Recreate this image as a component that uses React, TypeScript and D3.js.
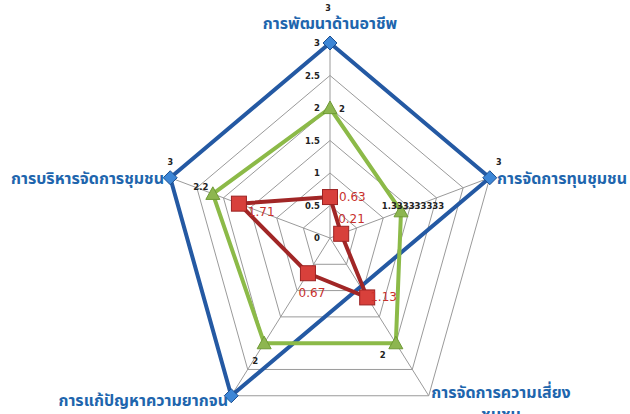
import React from "react";
import * as d3 from "d3";

// axis categories, clockwise from the top
const categories = [
  "การพัฒนาด้านอาชีพ",
  "การจัดการทุนชุมชน",
  "การจัดการความเสี่ยงชุมชน",
  "การแก้ปัญหาความยากจน",
  "การบริหารจัดการชุมชน",
];
const blueValues: (number | null)[] = [3, 3, null, 3, 3];
const greenValues = [2, 1.333333333, 2, 2, 2.2];
const redValues = [0.63, 0.21, 1.13, 0.67, 1.71];
const greenLabels = ["2", "1.333333333", "2", "2", "2.2"];
const redLabels = ["0.63", "0.21", "1.13", "0.67", "1.71"];
const tickValues = [0, 0.5, 1, 1.5, 2, 2.5, 3];
const tickLabels = ["0", "0.5", "1", "1.5", "2", "2.5", "3"];

const W = 630;
const H = 414;
const cx = 330;
const cy = 238;
const rx = 168;
const ry = 195;
const thai = "'Noto Sans Thai', 'Noto Sans Thai UI', Loma, Garuda, Tahoma, 'DejaVu Sans', sans-serif";
const labelBlue = "#2065ad";

const r = d3.scaleLinear().domain([0, 3]).range([0, 1]);
const angle = (i: number) => -Math.PI / 2 + (i * 2 * Math.PI) / categories.length;
const pt = (i: number, v: number): [number, number] => [
  cx + rx * r(v) * Math.cos(angle(i)),
  cy + ry * r(v) * Math.sin(angle(i)),
];

const closed = d3.line().curve(d3.curveLinearClosed);

// label offsets relative to the point (dx, dy, anchor)
const greenOff: [number, number, string][] = [
  [12, 4, "middle"],
  [12, -2, "middle"],
  [-13, 15, "middle"],
  [-9, 21, "middle"],
  [-12, -4, "middle"],
];
const redOff: [number, number, string][] = [
  [9, 4, "start"],
  [-3, -11, "start"],
  [3, 4, "start"],
  [4, 24, "middle"],
  [9, 12, "start"],
];

function Diamond({ x, y }: { x: number; y: number }) {
  const s = 7;
  return (
    <path
      d={`M${x},${y - s}L${x + s},${y}L${x},${y + s}L${x - s},${y}Z`}
      fill="#3d86d6"
      stroke="#1d4f90"
      strokeWidth={1}
    />
  );
}
function Triangle({ x, y }: { x: number; y: number }) {
  const s = 7;
  return (
    <path
      d={`M${x},${y - s}L${x + s},${y + s * 0.8}L${x - s},${y + s * 0.8}Z`}
      fill="#8db650"
      stroke="#6f9a35"
      strokeWidth={1}
    />
  );
}
function Square({ x, y }: { x: number; y: number }) {
  const s = 7.5;
  return (
    <rect x={x - s} y={y - s} width={s * 2} height={s * 2} fill="#d8403b" stroke="#9b2222" strokeWidth={1} />
  );
}

export default function App() {
  const rings = tickValues.slice(1).map((v) => categories.map((_, i) => pt(i, v)));
  const bluePts = blueValues
    .map((v, i) => (v == null ? null : pt(i, v)))
    .filter((p): p is [number, number] => p !== null);
  const greenPts = greenValues.map((v, i) => pt(i, v));
  const redPts = redValues.map((v, i) => pt(i, v));

  return (
    <svg
      width={W}
      height={H}
      style={{ position: "absolute", left: 0, top: 0, background: "#fff" }}
    >
      {/* grid */}
      {rings.map((ring, k) => (
        <path key={k} d={closed(ring) ?? ""} fill="none" stroke="#9a9a9a" strokeWidth={1} />
      ))}
      {categories.map((_, i) => {
        const [x, y] = pt(i, 3);
        return <line key={i} x1={cx} y1={cy} x2={x} y2={y} stroke="#9a9a9a" strokeWidth={1} />;
      })}
      {/* tick labels on the top spoke */}
      {tickValues.map((v, k) => (
        <text
          key={k}
          x={cx - 10}
          y={pt(0, v)[1] + 3}
          textAnchor="end"
          fontFamily="'DejaVu Sans', sans-serif"
          fontSize={8.5}
          fontWeight="bold"
          fill="#222"
        >
          {tickLabels[k]}
        </text>
      ))}

      {/* series lines */}
      <path d={closed(bluePts) ?? ""} fill="none" stroke="#2459a3" strokeWidth={4} strokeLinejoin="round" />
      <path d={closed(greenPts) ?? ""} fill="none" stroke="#8cba48" strokeWidth={4} strokeLinejoin="round" />
      <path d={closed(redPts) ?? ""} fill="none" stroke="#a12626" strokeWidth={4} strokeLinejoin="round" />

      {/* markers */}
      {bluePts.map(([x, y], i) => (
        <Diamond key={i} x={x} y={y} />
      ))}
      {greenPts.map(([x, y], i) => (
        <Triangle key={i} x={x} y={y} />
      ))}
      {redPts.map(([x, y], i) => (
        <Square key={i} x={x} y={y} />
      ))}

      {/* data labels */}
      {blueValues.map((v, i) => {
        if (v == null || i === 3) return null;
        const [x, y] = pt(i, v);
        const dy = i === 0 ? -32 : -13;
        const dx = i === 1 ? 9 : i === 4 ? 0 : -2;
        return (
          <text key={i} x={x + dx} y={y + dy} textAnchor="middle" fontFamily="'DejaVu Sans', sans-serif" fontSize={8} fontWeight="bold" fill="#222">
            {String(v)}
          </text>
        );
      })}
      {greenPts.map(([x, y], i) => (
        <text
          key={i}
          x={x + greenOff[i][0]}
          y={y + greenOff[i][1]}
          textAnchor={greenOff[i][2] as any}
          fontFamily="'DejaVu Sans', sans-serif"
          fontSize={8.5}
          fontWeight="bold"
          fill="#222"
        >
          {greenLabels[i]}
        </text>
      ))}
      {redPts.map(([x, y], i) => (
        <text
          key={i}
          x={x + redOff[i][0]}
          y={y + redOff[i][1]}
          textAnchor={redOff[i][2] as any}
          fontFamily="'DejaVu Sans', sans-serif"
          fontSize={12}
          fill="#c8302c"
        >
          {redLabels[i]}
        </text>
      ))}

      {/* category labels */}
      <g fontFamily={thai} fontSize={16} fontWeight="bold" fill={labelBlue}>
        <text x={cx} y={29} textAnchor="middle">{categories[0]}</text>
        <text x={497} y={184} textAnchor="start">{categories[1]}</text>
        <text x={501} y={398} textAnchor="middle">{categories[2].replace("ชุมชน", "")}</text>
        <text x={501} y={420} textAnchor="middle">ชุมชน</text>
        <text x={228} y={406} textAnchor="end">{categories[3]}</text>
        <text x={164} y={184} textAnchor="end">{categories[4]}</text>
      </g>
    </svg>
  );
}
